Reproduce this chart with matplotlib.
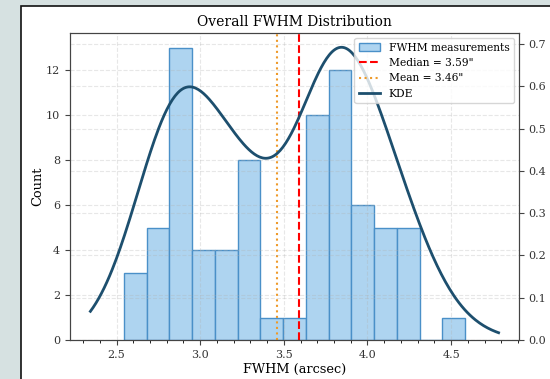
import numpy as np
import matplotlib
matplotlib.use("Agg")
import matplotlib.pyplot as plt
from matplotlib.patches import Rectangle

# Histogram of FWHM measurements (arcsec)
bin_edges = np.linspace(2.544, 4.584, 16)
counts = [3, 5, 13, 4, 4, 8, 1, 1, 10, 12, 6, 5, 5, 0, 1]
median_fwhm = 3.59
mean_fwhm = 3.46

plt.rcParams['font.family'] = 'DejaVu Serif'

fig = plt.figure(figsize=(5.5, 3.79), dpi=100, facecolor='#d6e1e1')
# white panel of the original screenshot
fig.patches.append(Rectangle((21 / 550, -0.1), 1.2, 1 - 6 / 379 + 0.1,
                             transform=fig.transFigure, facecolor='white',
                             edgecolor='#111111', linewidth=1.2, zorder=-10))

ax = fig.add_axes([70 / 550, 1 - 340 / 379, 449 / 550, 307 / 379])
centers = (bin_edges[:-1] + bin_edges[1:]) / 2
ax.hist(centers, bins=bin_edges, weights=counts, facecolor='#aed4f0',
        edgecolor='#4a90c8', linewidth=1.0, label='FWHM measurements')
ax.axvline(median_fwhm, color='red', linestyle='--', linewidth=1.5,
           label=f'Median = {median_fwhm:.2f}"')
ax.axvline(mean_fwhm, color='#ee9a2a', linestyle=':', linewidth=1.5,
           label=f'Mean = {mean_fwhm:.2f}"')

# KDE (gaussian, Scott bandwidth) on a secondary axis
values = np.repeat(centers, counts)
bw = values.std(ddof=1) * len(values) ** (-1 / 5)
kde_x = np.linspace(bin_edges[0] - 0.2, bin_edges[-1] + 0.2, 300)
kde_y = np.exp(-0.5 * ((kde_x[:, None] - values[None, :]) / bw) ** 2).sum(axis=1)
kde_y /= len(values) * bw * np.sqrt(2 * np.pi)

ax2 = ax.twinx()
ax2.plot(kde_x, kde_y, color='#1d4f6e', linewidth=2, label='KDE')
ax2.set_ylim(bottom=0)
ax2.set_ylabel('Density', fontsize=9.3)

ax.set_xticks([2.5, 3.0, 3.5, 4.0, 4.5])
ax.set_xticks(np.arange(2.3, 4.95, 0.1), minor=True)
ax.grid(True, linestyle='--', alpha=0.3)
ax2.grid(True, linestyle='--', alpha=0.3)

ax.set_xlabel('FWHM (arcsec)', fontsize=9.3, labelpad=2)
ax.set_ylabel('Count', fontsize=9.3, labelpad=1)
ax.set_title('Overall FWHM Distribution', fontsize=10, pad=5)
for a in (ax, ax2):
    a.tick_params(labelsize=8, labelcolor='#333333', color='#444444')
    for s in a.spines.values():
        s.set_color('#444444')

h1, l1 = ax.get_legend_handles_labels()
h2, l2 = ax2.get_legend_handles_labels()
ax2.legend(h1 + h2, l1 + l2, loc='upper right', fontsize=7.7)

fig.savefig('out.png', dpi=100, facecolor=fig.get_facecolor())
